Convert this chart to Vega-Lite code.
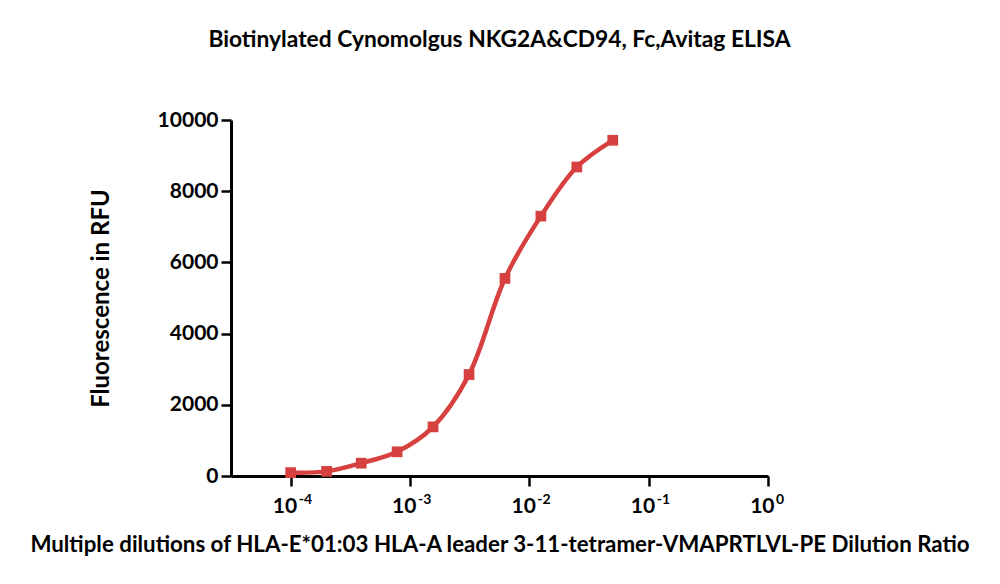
{
  "$schema": "https://vega.github.io/schema/vega-lite/v6.json",
  "autosize": "none",
  "width": 537,
  "height": 356,
  "padding": {"left": 231, "top": 120, "right": 232, "bottom": 108},
  "background": "white",
  "config": {
    "view": {"stroke": null},
    "font": "Lato",
    "axis": {"grid": false}
  },
  "title": {
    "text": "Biotinylated Cynomolgus NKG2A&CD94, Fc,Avitag ELISA",
    "fontSize": 22.8,
    "fontWeight": "bold",
    "font": "Lato",
    "color": "black",
    "anchor": "middle",
    "offset": 57
  },
  "datasets": {
    "points": [
      {"dilution": 0.0001, "rfu": 95},
      {"dilution": 0.0002, "rfu": 130},
      {"dilution": 0.00039, "rfu": 360},
      {"dilution": 0.00078, "rfu": 680},
      {"dilution": 0.00156, "rfu": 1380},
      {"dilution": 0.003125, "rfu": 2850},
      {"dilution": 0.00625, "rfu": 5550},
      {"dilution": 0.0125, "rfu": 7300},
      {"dilution": 0.025, "rfu": 8680},
      {"dilution": 0.05, "rfu": 9430}
    ],
    "exponents": [
      {"dilution": 0.0001, "exp": "-4"},
      {"dilution": 0.001, "exp": "-3"},
      {"dilution": 0.01, "exp": "-2"},
      {"dilution": 0.1, "exp": "-1"},
      {"dilution": 1, "exp": "0"}
    ]
  },
  "layer": [
    {
      "data": {"name": "points"},
      "mark": {"type": "line", "color": "#d6403e", "strokeWidth": 4.5, "interpolate": "catmull-rom"},
      "encoding": {
        "x": {
          "field": "dilution",
          "type": "quantitative",
          "scale": {"type": "log", "domain": [0.000031623, 1], "nice": false},
          "axis": {
            "title": "Multiple dilutions of HLA-E*01:03 HLA-A leader 3-11-tetramer-VMAPRTLVL-PE Dilution Ratio",
            "titleFontSize": 22.3,
            "titleFontWeight": "bold",
            "titleColor": "black",
            "titlePadding": 17,
            "values": [0.0001, 0.001, 0.01, 0.1, 1],
            "labelExpr": "'10'",
            "labelAlign": "right",
            "labelOffset": 6,
            "labelFontSize": 21,
            "labelFontWeight": "bold",
            "labelColor": "black",
            "labelPadding": 9,
            "labelFlush": false,
            "domainColor": "black",
            "domainWidth": 3,
            "tickColor": "black",
            "tickWidth": 2.5,
            "tickSize": 10
          }
        },
        "y": {
          "field": "rfu",
          "type": "quantitative",
          "scale": {"domain": [0, 10000], "nice": false},
          "axis": {
            "title": "Fluorescence in RFU",
            "titleFontSize": 24,
            "titleFontWeight": "bold",
            "titleColor": "black",
            "titlePadding": 44,
            "values": [0, 2000, 4000, 6000, 8000, 10000],
            "format": "d",
            "labelFontSize": 21,
            "labelFontWeight": "bold",
            "labelColor": "black",
            "labelPadding": 3,
            "labelFlush": false,
            "domainColor": "black",
            "domainWidth": 3,
            "tickColor": "black",
            "tickWidth": 2.5,
            "tickSize": 10
          }
        }
      }
    },
    {
      "data": {"name": "points"},
      "mark": {"type": "point", "shape": "square", "filled": true, "size": 115, "color": "#d6403e", "opacity": 1},
      "encoding": {
        "x": {"field": "dilution", "type": "quantitative"},
        "y": {"field": "rfu", "type": "quantitative"}
      }
    },
    {
      "data": {"name": "exponents"},
      "mark": {"type": "text", "align": "left", "baseline": "top", "dx": 8, "dy": 17, "fontSize": 14, "fontWeight": "bold", "font": "Lato", "color": "black", "clip": false},
      "encoding": {
        "x": {"field": "dilution", "type": "quantitative"},
        "y": {"datum": 0, "type": "quantitative"},
        "text": {"field": "exp"}
      }
    }
  ]
}
